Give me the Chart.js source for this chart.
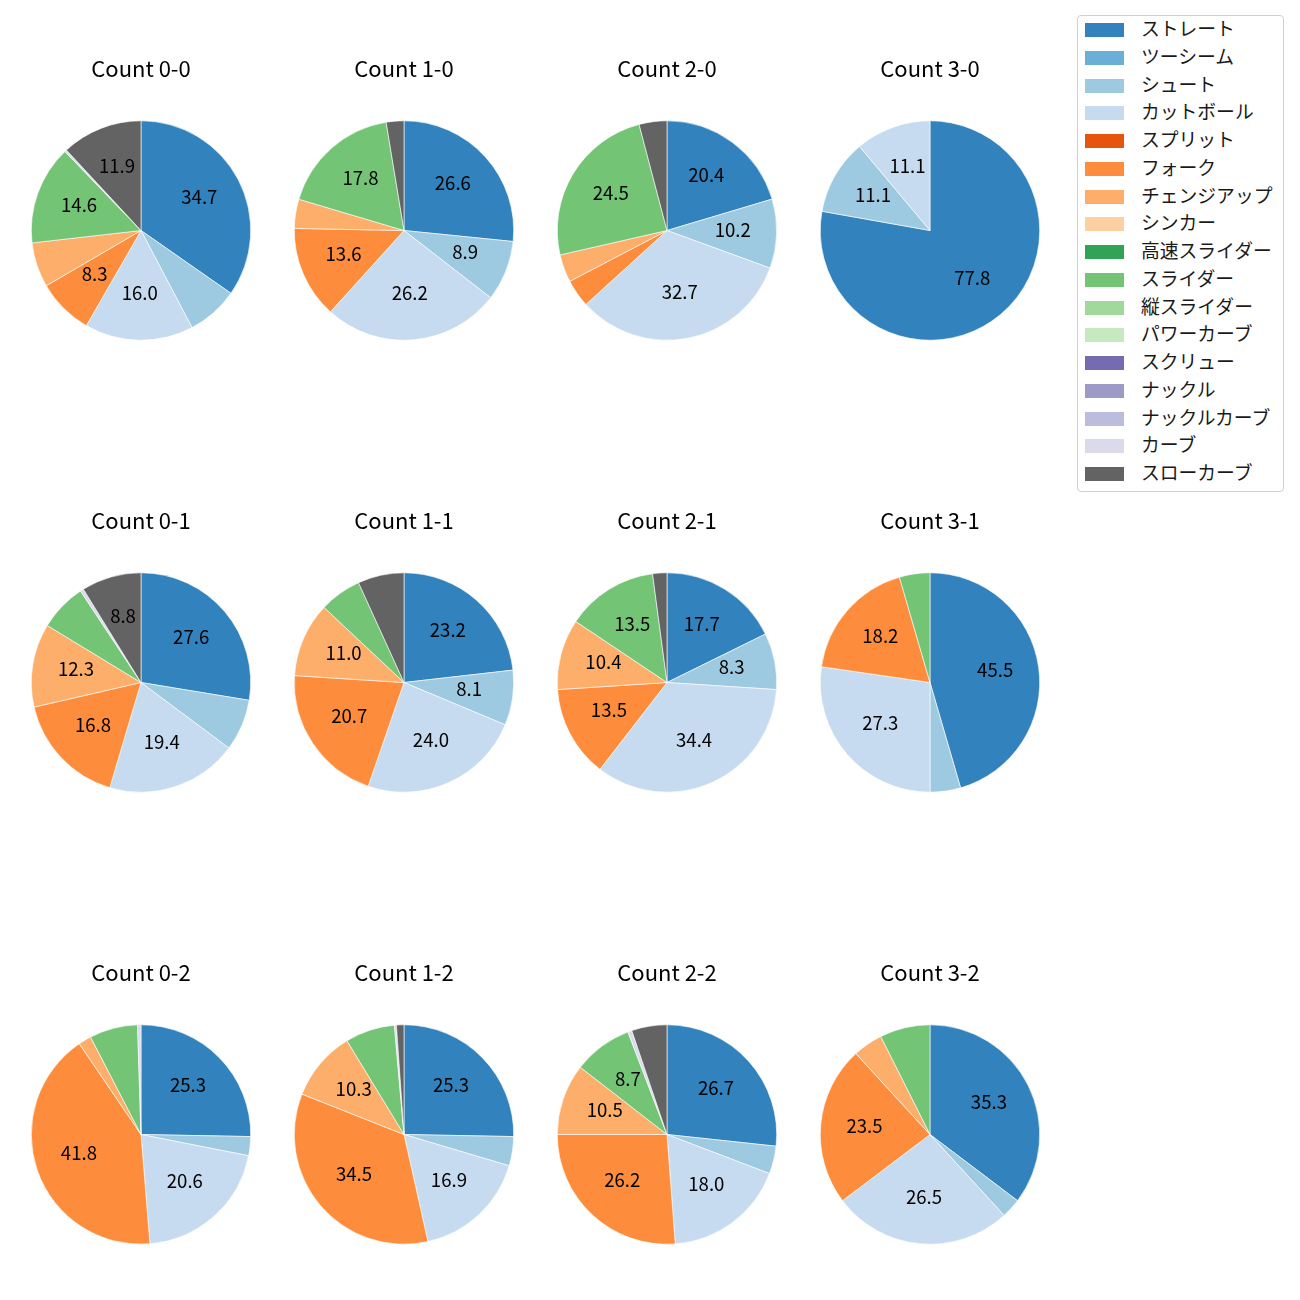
<!DOCTYPE html>
<html>
<head>
<meta charset="utf-8">
<script src="https://cdn.jsdelivr.net/npm/chart.js@4.4.1/dist/chart.umd.min.js"></script>
<style>
  html, body { margin: 0; padding: 0; background: #ffffff; }
  #wrap { position: relative; width: 1300px; height: 1300px; background: #fff; font-family: "Noto Sans CJK JP", "Noto Sans", sans-serif; }
  canvas.pie { position: absolute; }
  #legend { position: absolute; left: 1077px; top: 15px; width: 207px; height: 477px; border: 1px solid #d0d0d0; border-radius: 4px; box-sizing: border-box; background: #fff; }
  .item { position: absolute; left: 0; height: 20px; }
  .sw { position: absolute; left: 7px; width: 39px; height: 14px; }
  .lb { position: absolute; left: 63px; font-size: 18.8px; line-height: 20px; color: #1a1a1a; white-space: nowrap; }
</style>
</head>
<body>
<div id="wrap"><div id="legend"></div></div>
<script>
// ---- data ----
const categories = ["ストレート","ツーシーム","シュート","カットボール","スプリット","フォーク","チェンジアップ","シンカー","高速スライダー","スライダー","縦スライダー","パワーカーブ","スクリュー","ナックル","ナックルカーブ","カーブ","スローカーブ"];
const titles = ["Count 0-0","Count 1-0","Count 2-0","Count 3-0","Count 0-1","Count 1-1","Count 2-1","Count 3-1","Count 0-2","Count 1-2","Count 2-2","Count 3-2"];
const count00 = [34.7, 0, 7.6, 16.0, 0, 8.3, 6.6, 0, 0, 14.6, 0, 0, 0, 0, 0, 0.3, 11.9];
const count10 = [26.6, 0, 8.9, 26.2, 0, 13.6, 4.3, 0, 0, 17.8, 0, 0, 0, 0, 0, 0, 2.6];
const count20 = [20.4, 0, 10.2, 32.7, 0, 4.1, 4.1, 0, 0, 24.5, 0, 0, 0, 0, 0, 0, 4.1];
const count30 = [77.8, 0, 11.1, 11.1, 0, 0, 0, 0, 0, 0, 0, 0, 0, 0, 0, 0, 0];
const count01 = [27.6, 0, 7.6, 19.4, 0, 16.8, 12.3, 0, 0, 7.0, 0, 0, 0, 0, 0, 0.5, 8.8];
const count11 = [23.2, 0, 8.1, 24.0, 0, 20.7, 11.0, 0, 0, 6.2, 0, 0, 0, 0, 0, 0, 6.8];
const count21 = [17.7, 0, 8.3, 34.4, 0, 13.5, 10.4, 0, 0, 13.5, 0, 0, 0, 0, 0, 0, 2.1];
const count31 = [45.5, 0, 4.5, 27.3, 0, 18.2, 0, 0, 0, 4.5, 0, 0, 0, 0, 0, 0, 0];
const count02 = [25.3, 0, 2.8, 20.6, 0, 41.8, 1.9, 0, 0, 7.1, 0, 0, 0, 0, 0, 0.5, 0];
const count12 = [25.3, 0, 4.3, 16.9, 0, 34.5, 10.3, 0, 0, 7.3, 0, 0, 0, 0, 0, 0.3, 1.1];
const count22 = [26.7, 0, 4.1, 18.0, 0, 26.2, 10.5, 0, 0, 8.7, 0, 0, 0, 0, 0, 0.6, 5.2];
const count32 = [35.3, 0, 2.9, 26.5, 0, 23.5, 4.4, 0, 0, 7.4, 0, 0, 0, 0, 0, 0, 0];
const allCounts = [count00, count10, count20, count30, count01, count11, count21, count31, count02, count12, count22, count32];

// ---- style ----
const colors = ["#3182bd","#6baed6","#9ecae1","#c6dbef","#e6550d","#fd8d3c","#fdae6b","#fdd0a2","#31a354","#74c476","#a1d99b","#c7e9c0","#756bb1","#9e9ac8","#bcbddc","#dadaeb","#636363"];
const colX = [141, 404, 667, 930];
const rowY = [230, 682, 1134];
const FONT = '"Noto Sans CJK JP", "Noto Sans", sans-serif';

// legend
const legend = document.getElementById('legend');
categories.forEach((c, i) => {
  const it = document.createElement('div');
  it.className = 'item';
  it.style.top = (2 + i * 27.75) + 'px';
  it.style.width = '200px';
  const sw = document.createElement('div');
  sw.className = 'sw';
  sw.style.top = '5px';
  sw.style.background = colors[i];
  const lb = document.createElement('div');
  lb.className = 'lb';
  lb.style.top = '0px';
  lb.textContent = c;
  it.appendChild(sw); it.appendChild(lb);
  legend.appendChild(it);
});

const labelPlugin = {
  id: 'pctLabels',
  afterDatasetsDraw(chart) {
    const ctx = chart.ctx;
    const meta = chart.getDatasetMeta(0);
    const data = chart.data.datasets[0].data;
    ctx.save();
    ctx.font = '18.6px ' + FONT;
    ctx.fillStyle = '#000';
    ctx.textAlign = 'center';
    ctx.textBaseline = 'middle';
    meta.data.forEach((arc, i) => {
      const v = data[i];
      if (v < 8) return;
      const p = arc.getProps(['x','y','startAngle','endAngle','outerRadius'], true);
      const a = (p.startAngle + p.endAngle) / 2;
      const r = p.outerRadius * 0.6;
      ctx.fillText(v.toFixed(1), p.x + Math.cos(a) * r, p.y + Math.sin(a) * r - 3);
    });
    ctx.restore();
  }
};

const wrap = document.getElementById('wrap');
allCounts.forEach((vals, k) => {
  const cx = colX[k % 4], cy = rowY[Math.floor(k / 4)];
  const cv = document.createElement('canvas');
  cv.className = 'pie';
  cv.width = 260; cv.height = 330;
  cv.style.left = (cx - 130) + 'px';
  cv.style.top = (cy - 190) + 'px';
  cv.style.width = '260px'; cv.style.height = '330px';
  wrap.appendChild(cv);
  new Chart(cv, {
    type: 'pie',
    data: {
      labels: categories,
      datasets: [{ data: vals, backgroundColor: colors, borderColor: '#ffffff', borderWidth: 0.6 }]
    },
    options: {
      responsive: false,
      devicePixelRatio: 1,
      animation: false,
      layout: { padding: { left: 20, right: 20, top: 0, bottom: 29 } },
      plugins: {
        legend: { display: false },
        tooltip: { enabled: false },
        title: {
          display: true,
          text: titles[k],
          color: '#000',
          font: { family: FONT, size: 22, weight: 'normal', lineHeight: 1.2 },
          padding: { top: 15.8, bottom: 37.8 }
        }
      }
    },
    plugins: [labelPlugin]
  });
});
</script>
</body>
</html>
